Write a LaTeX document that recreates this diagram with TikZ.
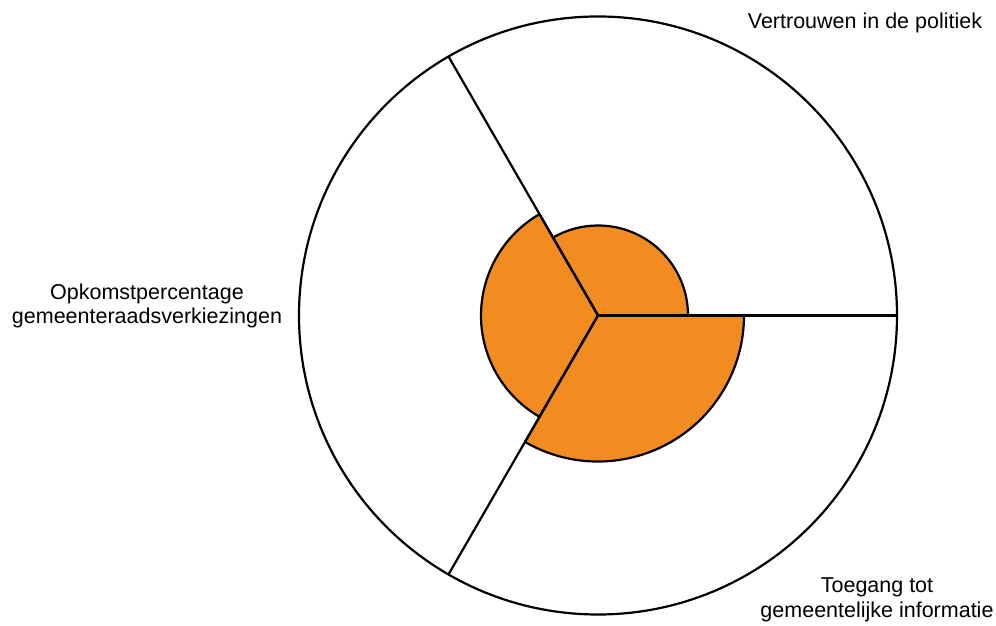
\documentclass[tikz,border=0pt]{standalone}
\usepackage{fontspec}
\setmainfont{Liberation Sans}
\usetikzlibrary{calc}
\definecolor{sectorfill}{RGB}{243,140,32}
\tikzset{
  sector/.style={fill=sectorfill, draw=black, line width=2.2pt, line join=round},
  spoke/.style={draw=black, line width=2.2pt},
  rim/.style={draw=black, line width=2.2pt},
  lbl/.style={font=\fontsize{21.5pt}{24.5pt}\selectfont, align=center, inner sep=0pt}
}
\begin{document}
\begin{tikzpicture}[x=1pt,y=1pt]
\useasboundingbox (0,0) rectangle (996,626);
\coordinate (O) at (598,310.5);
% sectors
\filldraw[sector] (O) -- ++(0:90) arc[start angle=0, end angle=120, radius=90] -- cycle;
\filldraw[sector] (O) -- ++(120:117) arc[start angle=120, end angle=240, radius=117] -- cycle;
\filldraw[sector] (O) -- ++(240:146) arc[start angle=240, end angle=360, radius=146] -- cycle;
% spokes
\coordinate (A) at ($(O)+(0:299)$);
\coordinate (B) at ($(O)+(120:299)$);
\coordinate (C) at ($(O)+(240:299)$);
\draw[spoke] (O) -- (A);
\draw[spoke] (O) -- (B);
\draw[spoke] (O) -- (C);
% rim
\draw[rim] (O) circle[radius=299];
% labels
\node[lbl] (vt) at (865,603) {Vertrouwen in de politiek};
\node[lbl] (op) at (147,320) {Opkomstpercentage\\gemeenteraadsverkiezingen};
\node[lbl] (tg) at (877,26) {Toegang tot\\gemeentelijke informatie};
\end{tikzpicture}
\end{document}
